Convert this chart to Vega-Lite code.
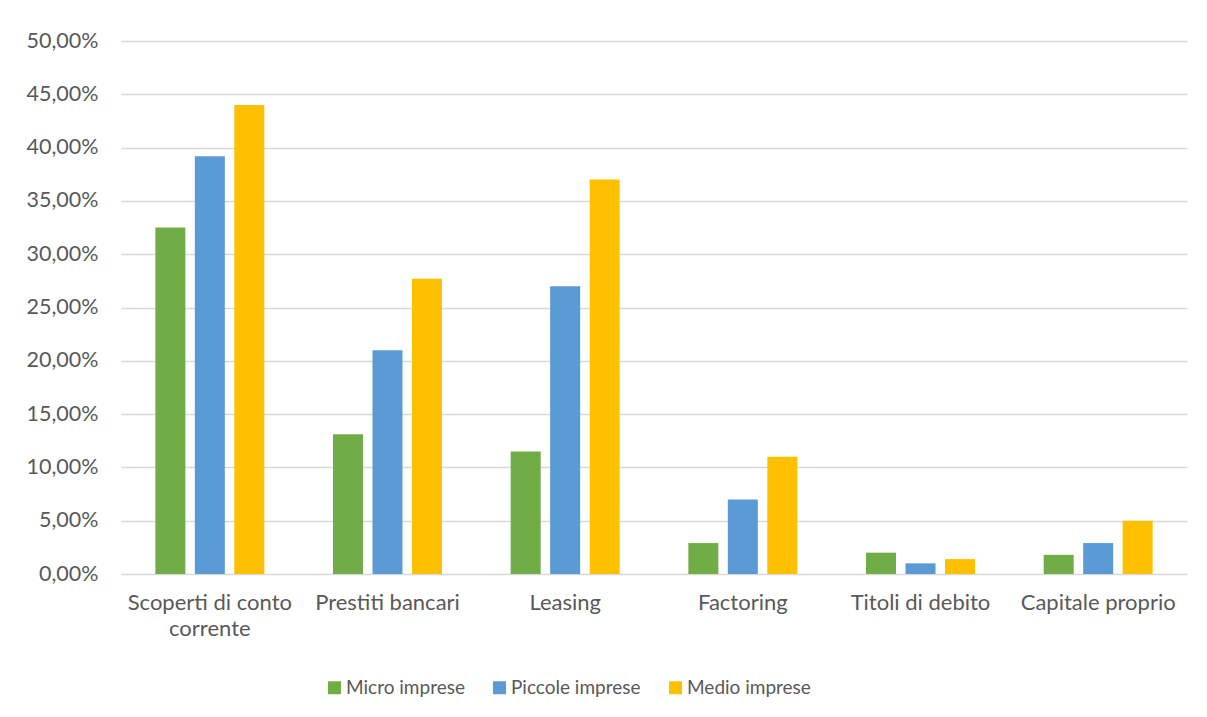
{
  "$schema": "https://vega.github.io/schema/vega-lite/v6.json",
  "autosize": "none",
  "width": 1066,
  "height": 533,
  "padding": {"left": 121, "top": 41, "right": 20, "bottom": 143},
  "background": "white",
  "config": {
    "view": {"stroke": null},
    "font": "Lato",
    "axis": {"labelFont": "Lato", "labelColor": "#595959", "labelFontSize": 21.5, "titleFont": "Lato"},
    "legend": {"labelFont": "Lato", "labelColor": "#595959", "labelFontSize": 19}
  },
  "data": {
    "values": [
      {"categoria": "Scoperti di conto corrente", "impresa": "Micro imprese", "valore": 32.5},
      {"categoria": "Scoperti di conto corrente", "impresa": "Piccole imprese", "valore": 39.2},
      {"categoria": "Scoperti di conto corrente", "impresa": "Medio imprese", "valore": 44.0},
      {"categoria": "Prestiti bancari", "impresa": "Micro imprese", "valore": 13.1},
      {"categoria": "Prestiti bancari", "impresa": "Piccole imprese", "valore": 21.0},
      {"categoria": "Prestiti bancari", "impresa": "Medio imprese", "valore": 27.7},
      {"categoria": "Leasing", "impresa": "Micro imprese", "valore": 11.5},
      {"categoria": "Leasing", "impresa": "Piccole imprese", "valore": 27.0},
      {"categoria": "Leasing", "impresa": "Medio imprese", "valore": 37.0},
      {"categoria": "Factoring", "impresa": "Micro imprese", "valore": 2.9},
      {"categoria": "Factoring", "impresa": "Piccole imprese", "valore": 7.0},
      {"categoria": "Factoring", "impresa": "Medio imprese", "valore": 11.0},
      {"categoria": "Titoli di debito", "impresa": "Micro imprese", "valore": 2.0},
      {"categoria": "Titoli di debito", "impresa": "Piccole imprese", "valore": 1.0},
      {"categoria": "Titoli di debito", "impresa": "Medio imprese", "valore": 1.4},
      {"categoria": "Capitale proprio", "impresa": "Micro imprese", "valore": 1.8},
      {"categoria": "Capitale proprio", "impresa": "Piccole imprese", "valore": 2.9},
      {"categoria": "Capitale proprio", "impresa": "Medio imprese", "valore": 5.0}
    ]
  },
  "mark": {"type": "bar"},
  "encoding": {
    "x": {
      "field": "categoria",
      "type": "nominal",
      "sort": ["Scoperti di conto corrente", "Prestiti bancari", "Leasing", "Factoring", "Titoli di debito", "Capitale proprio"],
      "scale": {"paddingInner": 0, "paddingOuter": 0},
      "axis": {
        "title": null,
        "labelAngle": 0,
        "domain": false,
        "ticks": false,
        "labelFontSize": 22,
        "labelPadding": 18,
        "labelBaseline": "top",
        "labelLineHeight": 26,
        "labelExpr": "datum.label == 'Scoperti di conto corrente' ? ['Scoperti di conto', 'corrente'] : datum.label"
      }
    },
    "xOffset": {
      "field": "impresa",
      "type": "nominal",
      "sort": ["Micro imprese", "Piccole imprese", "Medio imprese"],
      "scale": {"paddingInner": 0.24, "paddingOuter": 0.87}
    },
    "y": {
      "field": "valore",
      "type": "quantitative",
      "scale": {"domain": [0, 50], "nice": false},
      "axis": {
        "title": null,
        "values": [0, 5, 10, 15, 20, 25, 30, 35, 40, 45, 50],
        "domain": false,
        "ticks": false,
        "labelPadding": 23,
        "gridColor": "#d9d9d9",
        "gridWidth": 1.3,
        "labelExpr": "replace(format(datum.value, '.2f'), '.', ',') + '%'"
      }
    },
    "color": {
      "field": "impresa",
      "type": "nominal",
      "sort": ["Micro imprese", "Piccole imprese", "Medio imprese"],
      "scale": {"domain": ["Micro imprese", "Piccole imprese", "Medio imprese"], "range": ["#70AD47", "#5B9BD5", "#FFC000"]},
      "legend": {
        "title": null,
        "orient": "none",
        "direction": "horizontal",
        "legendX": 204,
        "legendY": 637,
        "symbolType": "square",
        "symbolSize": 169,
        "symbolStrokeWidth": 0,
        "labelOffset": 2,
        "columnPadding": 25
      }
    }
  }
}
